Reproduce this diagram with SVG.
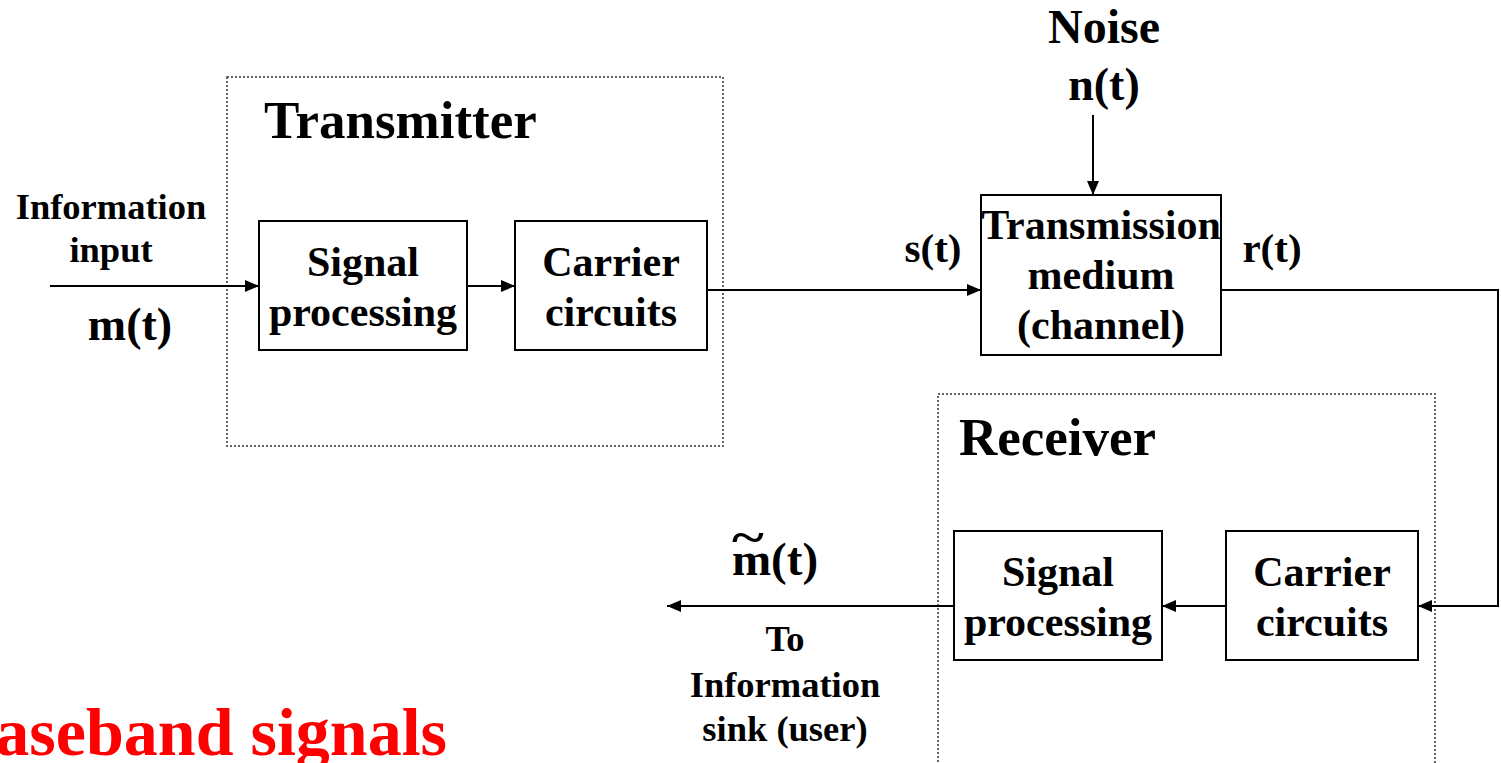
<svg xmlns="http://www.w3.org/2000/svg" width="1501" height="763" viewBox="0 0 1501 763">
  <style>
    text { font-family: "Liberation Serif", "Times New Roman", serif; font-weight: bold; fill: #000; }
    .box { fill: #fff; stroke: #000; stroke-width: 2; }
    .group { fill: none; stroke: #333; stroke-width: 1.5; stroke-dasharray: 2 2; }
    .wire { fill: none; stroke: #000; stroke-width: 2; }
    .mid { text-anchor: middle; }
    .blk { font-size: 42px; }
    .lbl { font-size: 41px; }
    .small { font-size: 36.5px; }
    .title { font-size: 53px; }
  </style>
  <defs>
    <marker id="arrow" viewBox="0 0 14 12" refX="14" refY="6" markerWidth="14" markerHeight="12" markerUnits="userSpaceOnUse" orient="auto">
      <path d="M0,0 L14,6 L0,12 Z" fill="#000"/>
    </marker>
  </defs>
  <rect width="1501" height="763" fill="#fff"/>

  <!-- transmitter enclosure -->
  <g id="transmitter">
    <rect class="group" x="227" y="77" width="496" height="369"/>
    <text class="title" x="264" y="138">Transmitter</text>
  </g>

  <!-- receiver enclosure -->
  <g id="receiver">
    <rect class="group" x="938" y="394" width="497" height="375"/>
    <text class="title" x="959" y="455">Receiver</text>
  </g>

  <g id="tx-signal-processing">
    <rect class="box" x="259" y="221" width="208" height="129"/>
    <text class="blk mid" x="363" y="276">Signal</text>
    <text class="blk mid" x="363" y="326">processing</text>
  </g>

  <g id="tx-carrier-circuits">
    <rect class="box" x="515" y="221" width="192" height="129"/>
    <text class="blk mid" x="611" y="276">Carrier</text>
    <text class="blk mid" x="611" y="326">circuits</text>
  </g>

  <g id="channel">
    <rect class="box" x="981" y="195" width="240" height="160"/>
    <text class="blk mid" x="1101" y="239">Transmission</text>
    <text class="blk mid" x="1101" y="289">medium</text>
    <text class="blk mid" x="1101" y="339">(channel)</text>
  </g>

  <g id="rx-signal-processing">
    <rect class="box" x="954" y="531" width="208" height="129"/>
    <text class="blk mid" x="1058" y="586">Signal</text>
    <text class="blk mid" x="1058" y="636">processing</text>
  </g>

  <g id="rx-carrier-circuits">
    <rect class="box" x="1226" y="531" width="192" height="129"/>
    <text class="blk mid" x="1322" y="586">Carrier</text>
    <text class="blk mid" x="1322" y="636">circuits</text>
  </g>

  <g id="noise">
    <text class="mid" font-size="48" x="1104" y="43">Noise</text>
    <text class="mid" font-size="46" x="1104" y="100">n(t)</text>
  </g>

  <g id="source">
    <text class="small mid" x="111" y="219">Information</text>
    <text class="small mid" x="111" y="262">input</text>
    <text class="mid" font-size="46" x="130" y="340">m(t)</text>
  </g>

  <g id="sink">
    <text class="mid" font-size="47" x="775" y="575">m(t)</text>
    <!-- wide tilde over the m -->
    <text class="mid" font-size="47" transform="translate(748 553) scale(1.3 1)" x="0" y="0">~</text>
    <text class="small mid" x="785" y="651">To</text>
    <text class="small mid" x="785" y="697">Information</text>
    <text class="small mid" x="785" y="741">sink (user)</text>
  </g>

  <g id="signal-labels">
    <text class="lbl mid" x="933" y="262">s(t)</text>
    <text class="lbl mid" x="1272" y="262">r(t)</text>
  </g>

  <g id="caption">
    <text font-size="68" x="447" y="755" text-anchor="end" style="fill:#f00">Baseband signals</text>
  </g>

  <!-- signal flow -->
  <g id="connectors">
    <path class="wire" d="M50,286 H259" marker-end="url(#arrow)"/>
    <path class="wire" d="M467,286 H515" marker-end="url(#arrow)"/>
    <path class="wire" d="M707,290 H981" marker-end="url(#arrow)"/>
    <path class="wire" d="M1093,115 V195" marker-end="url(#arrow)"/>
    <path class="wire" d="M1221,290 H1498 V606 H1418" marker-end="url(#arrow)"/>
    <path class="wire" d="M1226,606 H1162" marker-end="url(#arrow)"/>
    <path class="wire" d="M954,606 H667" marker-end="url(#arrow)"/>
  </g>
</svg>
